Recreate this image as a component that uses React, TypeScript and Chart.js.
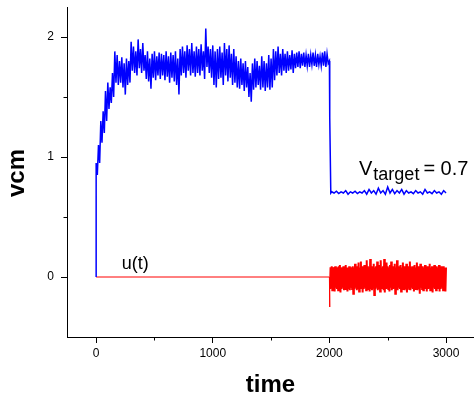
import React, { useEffect, useRef } from "react";
import { Chart, registerables } from "chart.js";

Chart.register(...registerables);

const FONT = "'Liberation Sans', Arial, Helvetica, sans-serif";

// Axis ranges and ticks
const X_MIN = -250;
const X_MAX = 3240;
const Y_MIN = -0.5;
const Y_MAX = 2.25;
const xMajorTicks = [0, 1000, 2000, 3000];
const xMinorTicks = [500, 1500, 2500];
const yMajorTicks = [0, 1, 2];
const yMinorTicks = [0.5, 1.5];
const xTitle = "time";
const yTitle = "vcm";

// v_cm (blue): noisy trace given as upper / lower excursions, sampled every 20 time units from t = 0
const blueStart = 0;
const blueStep = 20;
const blueHi = [
  0.95, 1.10, 1.30, 1.38, 1.55, 1.62, 1.58, 1.70, 1.88, 1.85,
  1.80, 1.83, 1.78, 1.82, 1.80, 1.96, 1.92, 1.88, 1.98, 1.90,
  1.95, 1.85, 1.88, 1.82, 1.86, 1.88, 1.84, 1.87, 1.86, 1.85,
  1.88, 1.84, 1.87, 1.85, 1.88, 1.82, 1.90, 1.92, 1.88, 1.93,
  1.90, 1.95, 1.88, 1.92, 1.90, 1.94, 1.88, 2.07, 1.92, 1.90,
  1.93, 1.88, 1.90, 1.92, 1.87, 1.95, 1.90, 1.93, 1.86, 1.90,
  1.84, 1.80, 1.82, 1.78, 1.80, 1.75, 1.70, 1.78, 1.82, 1.80,
  1.76, 1.84, 1.80, 1.78, 1.85, 1.82, 1.90, 1.88, 1.92, 1.86,
  1.90, 1.86, 1.88, 1.85, 1.89, 1.86, 1.87, 1.88, 1.86, 1.87,
  1.85, 1.86, 1.85, 1.87, 1.85, 1.86, 1.84, 1.87, 1.88, 1.86,
];
const blueLo = [
  0.85, 0.95, 1.12, 1.20, 1.30, 1.40, 1.45, 1.50, 1.62, 1.60,
  1.62, 1.58, 1.52, 1.60, 1.62, 1.72, 1.70, 1.68, 1.74, 1.70,
  1.72, 1.65, 1.63, 1.57, 1.66, 1.64, 1.68, 1.65, 1.68, 1.64,
  1.67, 1.62, 1.66, 1.63, 1.60, 1.52, 1.68, 1.70, 1.66, 1.72,
  1.68, 1.70, 1.67, 1.70, 1.68, 1.72, 1.65, 1.75, 1.70, 1.66,
  1.60, 1.58, 1.65, 1.66, 1.60, 1.68, 1.63, 1.66, 1.60, 1.62,
  1.58, 1.57, 1.60, 1.55, 1.58, 1.50, 1.46, 1.56, 1.58, 1.60,
  1.56, 1.58, 1.55, 1.58, 1.56, 1.58, 1.64, 1.68, 1.70, 1.68,
  1.72, 1.70, 1.72, 1.73, 1.70, 1.74, 1.75, 1.74, 1.76, 1.75,
  1.76, 1.75, 1.77, 1.76, 1.75, 1.77, 1.76, 1.76, 1.75, 1.78,
];
// the switch at t = 2000
const blueDropT = [2000, 2003, 2012];
const blueDropV = [1.80, 1.33, 0.70];
// tail after the switch (V_target = 0.7), every 40 time units from t = 2020
const tailStart = 2020;
const tailStep = 40;
const tailHi = [
  0.71, 0.715, 0.71, 0.72, 0.71, 0.715, 0.71, 0.72, 0.73, 0.72,
  0.74, 0.72, 0.75, 0.73, 0.72, 0.73, 0.72, 0.71, 0.72, 0.71,
  0.73, 0.71, 0.72, 0.71, 0.72,
];
const tailLo = [
  0.70, 0.695, 0.70, 0.69, 0.70, 0.695, 0.70, 0.69, 0.70, 0.69,
  0.70, 0.69, 0.70, 0.695, 0.70, 0.69, 0.70, 0.695, 0.70, 0.69,
  0.70, 0.695, 0.70, 0.69, 0.70,
];

// u(t) (red): zero until t = 2000, then a noisy control signal
const redFlatT = [0, 2000, 2002, 2004];
const redFlatV = [0, 0, -0.25, 0.0];
const redStart = 2005;
const redStep = 10;
const redHi = [
  0.08, 0.09, 0.08, 0.08, 0.09, 0.08, 0.08, 0.09, 0.10, 0.08,
  0.08, 0.09, 0.08, 0.10, 0.08, 0.08, 0.09, 0.08, 0.08, 0.09,
  0.08, 0.11, 0.08, 0.09, 0.12, 0.08, 0.13, 0.09, 0.08, 0.10,
  0.08, 0.14, 0.09, 0.08, 0.15, 0.09, 0.08, 0.11, 0.08, 0.09,
  0.13, 0.08, 0.10, 0.14, 0.08, 0.09, 0.15, 0.08, 0.12, 0.09,
  0.08, 0.10, 0.13, 0.08, 0.09, 0.11, 0.08, 0.14, 0.09, 0.08,
  0.10, 0.08, 0.12, 0.09, 0.08, 0.11, 0.08, 0.09, 0.13, 0.08,
  0.09, 0.08, 0.10, 0.08, 0.12, 0.09, 0.08, 0.11, 0.08, 0.09,
  0.08, 0.10, 0.08, 0.09, 0.08, 0.11, 0.08, 0.09, 0.08, 0.10,
  0.08, 0.09, 0.08, 0.10, 0.08, 0.09, 0.08, 0.09, 0.08, 0.08,
];
const redLo = [
  -0.10, -0.09, -0.11, -0.10, -0.12, -0.09, -0.10, -0.11, -0.09, -0.13,
  -0.10, -0.09, -0.11, -0.10, -0.09, -0.12, -0.10, -0.11, -0.09, -0.10,
  -0.14, -0.10, -0.09, -0.11, -0.10, -0.12, -0.09, -0.10, -0.13, -0.10,
  -0.09, -0.11, -0.10, -0.09, -0.12, -0.10, -0.11, -0.09, -0.15, -0.10,
  -0.09, -0.11, -0.10, -0.12, -0.09, -0.10, -0.11, -0.13, -0.10, -0.09,
  -0.10, -0.12, -0.09, -0.11, -0.10, -0.09, -0.14, -0.10, -0.11, -0.09,
  -0.10, -0.12, -0.10, -0.09, -0.11, -0.10, -0.13, -0.09, -0.10, -0.11,
  -0.09, -0.10, -0.12, -0.10, -0.09, -0.11, -0.10, -0.14, -0.09, -0.10,
  -0.11, -0.09, -0.10, -0.12, -0.10, -0.09, -0.11, -0.10, -0.13, -0.09,
  -0.10, -0.11, -0.09, -0.10, -0.12, -0.10, -0.09, -0.11, -0.10, -0.12,
];

// text annotations anchored in data coordinates
const uLabel = { text: "u(t)", x: 220, y: 0.064 };
const vLabel = { main: "V", sub: "target", rest: "= 0.7", x: 2254, y: 0.85 };

type P = { x: number; y: number };

function buildBlue(): P[] {
  const pts: P[] = [{ x: 0, y: 0 }];
  blueHi.forEach((h, i) => {
    const t = blueStart + i * blueStep;
    pts.push({ x: t, y: h });
    pts.push({ x: t + blueStep / 2, y: blueLo[i] });
  });
  blueDropT.forEach((t, i) => pts.push({ x: t, y: blueDropV[i] }));
  tailHi.forEach((h, i) => {
    const t = tailStart + i * tailStep;
    pts.push({ x: t, y: h });
    pts.push({ x: t + tailStep / 2, y: tailLo[i] });
  });
  return pts;
}

function buildRedFlat(): P[] {
  return redFlatT.map((t, i) => ({ x: t, y: redFlatV[i] }));
}

function buildRedBand(): P[] {
  const pts: P[] = [];
  redLo.forEach((l, i) => {
    const t = redStart + i * redStep;
    pts.push({ x: t, y: l });
    pts.push({ x: t + redStep / 2, y: redHi[i] });
  });
  return pts;
}

const overlayPlugin = {
  id: "overlay",
  afterDraw(chart: any) {
    const { ctx, chartArea } = chart;
    const x = chart.scales.x;
    const y = chart.scales.y;
    ctx.save();
    // minor ticks
    ctx.strokeStyle = "#000";
    ctx.lineWidth = 1;
    ctx.beginPath();
    for (const v of xMinorTicks) {
      const px = Math.round(x.getPixelForValue(v)) + 0.5;
      ctx.moveTo(px, chartArea.bottom);
      ctx.lineTo(px, chartArea.bottom + 3.5);
    }
    for (const v of yMinorTicks) {
      const py = Math.round(y.getPixelForValue(v)) + 0.5;
      ctx.moveTo(chartArea.left - 3.5, py);
      ctx.lineTo(chartArea.left, py);
    }
    ctx.stroke();

    // axis titles
    ctx.fillStyle = "#000";
    ctx.font = `bold 24px ${FONT}`;
    ctx.textAlign = "center";
    ctx.textBaseline = "alphabetic";
    ctx.fillText(xTitle, (chartArea.left + chartArea.right) / 2, 392);
    ctx.save();
    ctx.translate(23.5, (chartArea.top + chartArea.bottom) / 2 + 1);
    ctx.rotate(-Math.PI / 2);
    ctx.fillText(yTitle, 0, 0);
    ctx.restore();

    // annotations
    ctx.textAlign = "left";
    ctx.font = `18px ${FONT}`;
    ctx.fillText(uLabel.text, x.getPixelForValue(uLabel.x), y.getPixelForValue(uLabel.y));

    const vx = x.getPixelForValue(vLabel.x);
    const vy = y.getPixelForValue(vLabel.y);
    ctx.font = `20px ${FONT}`;
    ctx.fillText(vLabel.main, vx, vy);
    let cx = vx + ctx.measureText(vLabel.main).width + 1;
    ctx.font = `18px ${FONT}`;
    ctx.fillText(vLabel.sub, cx, vy + 5);
    cx += ctx.measureText(vLabel.sub).width + 4;
    ctx.font = `20px ${FONT}`;
    ctx.fillText(vLabel.rest, cx, vy);
    ctx.restore();
  },
};

export default function App() {
  const ref = useRef<HTMLCanvasElement | null>(null);

  useEffect(() => {
    if (!ref.current) return;
    const chart = new Chart(ref.current, {
      type: "line",
      data: {
        datasets: [
          {
            label: "vcm",
            data: buildBlue(),
            borderColor: "#0000ff",
            borderWidth: 1.5,
            pointRadius: 0,
            tension: 0,
            fill: false,
          },
          {
            label: "u(t)",
            data: buildRedFlat(),
            borderColor: "#ff0000",
            borderWidth: 1,
            pointRadius: 0,
            tension: 0,
            fill: false,
          },
          {
            label: "u(t) noise",
            data: buildRedBand(),
            borderColor: "#ff0000",
            borderWidth: 2,
            pointRadius: 0,
            tension: 0,
            fill: false,
          },
        ],
      },
      options: {
        animation: false,
        responsive: false,
        devicePixelRatio: 1,
        layout: { padding: { top: 0, right: 0, bottom: 0, left: 0 } },
        plugins: {
          legend: { display: false },
          tooltip: { enabled: false },
          title: { display: false },
        },
        scales: {
          x: {
            type: "linear",
            min: X_MIN,
            max: X_MAX,
            afterBuildTicks: (s: any) => {
              s.ticks = xMajorTicks.map((v) => ({ value: v }));
            },
            afterFit: (s: any) => {
              s.height = 62;
              s.paddingLeft = 0;
              s.paddingRight = 0;
            },
            border: { display: true, color: "#000", width: 1 },
            grid: {
              drawOnChartArea: false,
              drawTicks: true,
              tickLength: 6,
              tickColor: "#000",
              tickWidth: 1,
            },
            ticks: {
              autoSkip: false,
              maxRotation: 0,
              padding: 3,
              color: "#000",
              font: { family: FONT, size: 12 },
              callback: (v: any) => String(v),
            },
          },
          y: {
            type: "linear",
            min: Y_MIN,
            max: Y_MAX,
            afterBuildTicks: (s: any) => {
              s.ticks = yMajorTicks.map((v) => ({ value: v }));
            },
            afterFit: (s: any) => {
              s.width = 67;
              s.paddingTop = 7;
              s.paddingBottom = 0;
            },
            border: { display: true, color: "#000", width: 1 },
            grid: {
              drawOnChartArea: false,
              drawTicks: true,
              tickLength: 6,
              tickColor: "#000",
              tickWidth: 1,
            },
            ticks: {
              autoSkip: false,
              padding: 7,
              color: "#000",
              font: { family: FONT, size: 12 },
              callback: (v: any) => String(v),
            },
          },
        },
      },
      plugins: [overlayPlugin],
    });
    return () => chart.destroy();
  }, []);

  return (
    <div style={{ position: "fixed", left: 0, top: 0, width: 474, height: 399, background: "#fff" }}>
      <canvas ref={ref} width={474} height={399} style={{ display: "block", width: 474, height: 399 }} />
    </div>
  );
}
